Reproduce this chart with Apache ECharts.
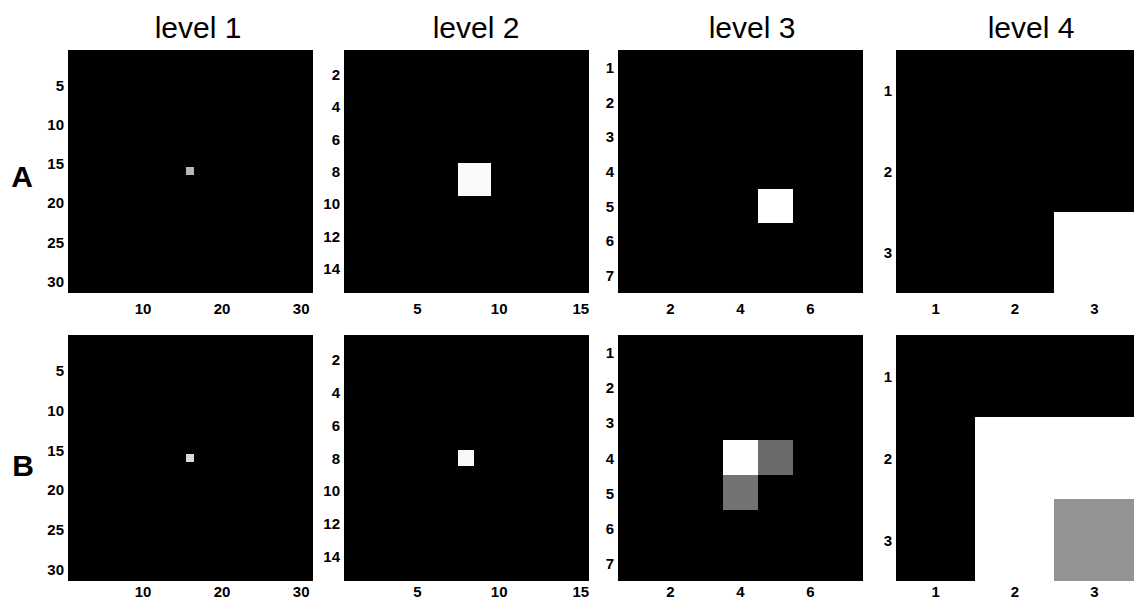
<!DOCTYPE html>
<html>
<head>
<meta charset="utf-8">
<script src="https://cdn.jsdelivr.net/npm/echarts@6/dist/echarts.min.js"></script>
<style>
  html, body { margin: 0; padding: 0; background: #ffffff; }
  #chart { width: 1134px; height: 602px; }
  /* keep adjacent heatmap cells seamless */
  #chart svg path { shape-rendering: crispEdges; }
</style>
</head>
<body>
<div id="chart"></div>
<script>
// Grid sizes of the four pyramid levels
const levelSizes = [31, 15, 7, 3];
const levelTitles = ['level 1', 'level 2', 'level 3', 'level 4'];
const rowNames = ['A', 'B'];

// Tick labels per level
const xTicks = [[10, 20, 30], [5, 10, 15], [2, 4, 6], [1, 2, 3]];
const yTicks = [[5, 10, 15, 20, 25, 30], [2, 4, 6, 8, 10, 12, 14], [1, 2, 3, 4, 5, 6, 7], [1, 2, 3]];

// Non-zero cells [column, row, intensity]; every other cell is 0
const cellsA1 = [[16, 16, 0.72]];
const cellsA2 = [[8, 8, 0.98], [9, 8, 0.98], [8, 9, 0.98], [9, 9, 0.98]];
const cellsA3 = [[5, 5, 1.0]];
const cellsA4 = [[3, 3, 1.0]];

const cellsB1 = [[16, 16, 0.85]];
const cellsB2 = [[8, 8, 0.97]];
const cellsB3 = [[4, 4, 1.0], [5, 4, 0.42], [4, 5, 0.45]];
const cellsB4 = [[2, 2, 1.0], [3, 2, 1.0], [2, 3, 1.0], [3, 3, 0.58]];

const panelCells = [
  [cellsA1, cellsA2, cellsA3, cellsA4],
  [cellsB1, cellsB2, cellsB3, cellsB4]
];

// Panel placement in pixels
const colLeft = [68, 344, 618, 896];
const panelWidth = 245;
const rowTop = [50, 335];
const rowHeight = [243, 246];
const xLabelMargin = [8, 3];
const titleCenters = [198, 476, 752, 1031];
const rowCenters = [[22, 176], [23, 465]];

function buildMatrix(n, cells) {
  const lit = {};
  cells.forEach(c => { lit[c[0] + ',' + c[1]] = c[2]; });
  const out = [];
  for (let r = 1; r <= n; r++) {
    for (let c = 1; c <= n; c++) {
      const v = lit[c + ',' + r];
      out.push([c - 1, r - 1, v === undefined ? 0 : v]);
    }
  }
  return out;
}

const fontFamily = 'Liberation Sans, Arial, sans-serif';
const tickFont = { color: '#000000', fontFamily: fontFamily, fontWeight: 'bold', fontSize: 15 };

const grids = [], xAxes = [], yAxes = [], series = [];
for (let row = 0; row < 2; row++) {
  for (let lv = 0; lv < 4; lv++) {
    const idx = row * 4 + lv;
    const n = levelSizes[lv];
    const cats = [];
    for (let i = 1; i <= n; i++) cats.push(String(i));
    grids.push({
      left: colLeft[lv], top: rowTop[row], width: panelWidth, height: rowHeight[row],
      show: true, backgroundColor: '#000000', borderWidth: 0, containLabel: false
    });
    const xt = xTicks[lv], yt = yTicks[lv];
    xAxes.push({
      type: 'category', gridIndex: idx, data: cats, position: 'bottom',
      axisLine: { show: false }, axisTick: { show: false }, splitLine: { show: false },
      axisLabel: Object.assign({
        margin: xLabelMargin[row],
        interval: (i, v) => xt.includes(Number(v))
      }, tickFont)
    });
    yAxes.push({
      type: 'category', gridIndex: idx, data: cats, inverse: true,
      axisLine: { show: false }, axisTick: { show: false }, splitLine: { show: false },
      axisLabel: Object.assign({
        margin: 4,
        interval: (i, v) => yt.includes(Number(v))
      }, tickFont)
    });
    series.push({
      type: 'heatmap', xAxisIndex: idx, yAxisIndex: idx,
      data: buildMatrix(n, panelCells[row][lv]),
      itemStyle: { borderWidth: 0 },
      emphasis: { disabled: true },
      progressive: 0
    });
  }
}

const titles = levelTitles.map((t, i) => ({
  text: t, left: titleCenters[i], top: 12, textAlign: 'center', padding: 0,
  textStyle: { fontSize: 30, fontWeight: 'normal', color: '#000000', fontFamily: fontFamily }
}));
rowNames.forEach((name, r) => {
  titles.push({
    text: name, left: rowCenters[r][0], top: rowCenters[r][1] - 15, textAlign: 'center', padding: 0,
    textStyle: { fontSize: 30, fontWeight: 'bold', color: '#000000', fontFamily: fontFamily }
  });
});

const chart = echarts.init(document.getElementById('chart'), null, { renderer: 'svg' });
chart.setOption({
  animation: false,
  backgroundColor: '#ffffff',
  title: titles,
  grid: grids,
  xAxis: xAxes,
  yAxis: yAxes,
  visualMap: {
    type: 'continuous', show: false, min: 0, max: 1,
    seriesIndex: series.map((s, i) => i),
    inRange: { color: ['#000000', '#ffffff'] }
  },
  series: series
});
</script>
</body>
</html>
